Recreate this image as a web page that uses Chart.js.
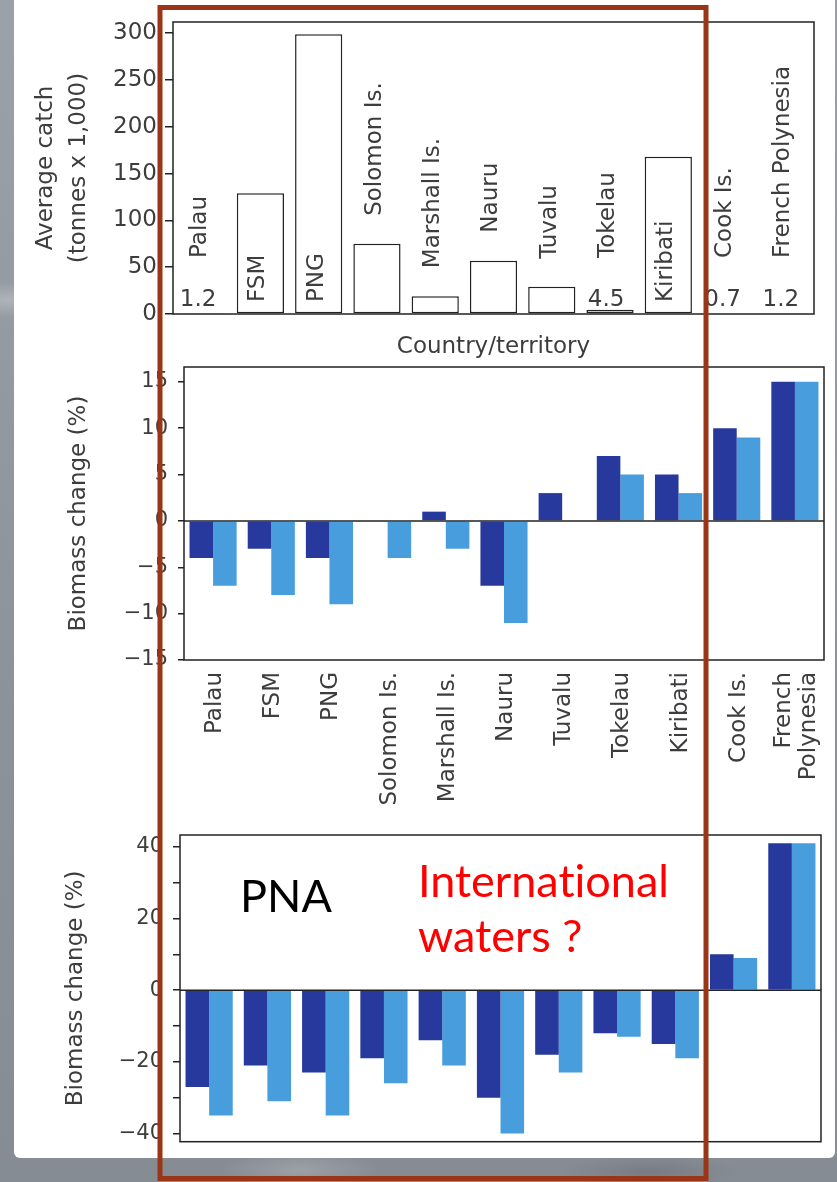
<!DOCTYPE html>
<html>
<head>
<meta charset="utf-8">
<script src="https://cdn.jsdelivr.net/npm/chart.js@4/dist/chart.umd.min.js"></script>
<style>
  html, body { margin: 0; padding: 0; }
  body {
    width: 837px; height: 1182px; position: relative; overflow: hidden;
    background:
      radial-gradient(ellipse 60px 18px at 8px 300px, rgba(255,255,255,0.25), transparent),
      radial-gradient(ellipse 80px 20px at 300px 1170px, rgba(255,255,255,0.18), transparent),
      radial-gradient(ellipse 90px 16px at 650px 1172px, rgba(60,60,70,0.2), transparent),
      linear-gradient(180deg, #9ba1a8 0%, #8c929a 60%, #868c94 100%);
  }
  #sheet {
    position: absolute; left: 14px; top: 0; width: 821px; height: 1158px;
    background: #fff; border-radius: 0 0 6px 6px;
  }
  canvas { position: absolute; left: 0; }
  #c1 { top: 0; }
  #c2 { top: 360px; }
  #c3 { top: 820px; }
  #overlay { position: absolute; left: 0; top: 0; pointer-events: none; }
  #overlay text { font-variant-ligatures: none; font-feature-settings: "liga" 0; }
</style>
</head>
<body>
<div id="sheet"></div>
<canvas id="c1" width="837" height="362"></canvas>
<canvas id="c2" width="837" height="470"></canvas>
<canvas id="c3" width="837" height="362"></canvas>
<svg id="overlay" width="837" height="1182" xmlns="http://www.w3.org/2000/svg">
  <text x="240" y="911.5" font-family="Lato, 'Open Sans', sans-serif" font-size="45" fill="#000">PNA</text>
  <text x="418" y="896.5" font-family="Lato, 'Open Sans', sans-serif" font-size="45" fill="#ff0000">International</text>
  <text x="418" y="951.5" font-family="Lato, 'Open Sans', sans-serif" font-size="45" fill="#ff0000">waters ?</text>
  <rect x="160" y="7.5" width="546" height="1171" fill="none" stroke="#9b3517" stroke-width="5"/>
</svg>
<script>
// Countries / territories, west to east
const countries = ['Palau', 'FSM', 'PNG', 'Solomon Is.', 'Marshall Is.', 'Nauru',
  'Tuvalu', 'Tokelau', 'Kiribati', 'Cook Is.', 'French Polynesia'];
const axisLabels = ['Palau', 'FSM', 'PNG', 'Solomon Is.', 'Marshall Is.', 'Nauru',
  'Tuvalu', 'Tokelau', 'Kiribati', 'Cook Is.', ['French', 'Polynesia']];

// Average catch (tonnes x 1,000)
const catchValues = [1.2, 129, 299, 75, 19, 57, 29, 4.5, 168, 0.7, 1.2];

// Biomass change (%), middle panel
const midDark  = [-4, -3, -4, 0, 1, -7, 3, 7, 5, 10, 15];
const midLight = [-7, -8, -9, -4, -3, -11, 0, 5, 3, 9, 15];

// Biomass change (%), lower panel
const lowDark  = [-27, -21, -23, -19, -14, -30, -18, -12, -15, 10, 41];
const lowLight = [-35, -31, -35, -26, -21, -40, -23, -13, -19, 9, 41];

// Tick values
const catchTicks = [0, 50, 100, 150, 200, 250, 300];
const midTicks   = [-15, -10, -5, 0, 5, 10, 15];
const lowTicks   = [-40, -30, -20, -10, 0, 10, 20, 30, 40];
const lowLabelled = [-40, -20, 0, 20, 40];

const FONT = '"DejaVu Sans", sans-serif';
const TEXT = '#3d3d3d';
const LINE = '#222';
const DARK = '#27399d';
const LIGHT = '#489edc';

const fmt = v => (v < 0 ? '\u2212' : '') + Math.abs(v);

function framePlugin(showZero) {
  return {
    id: 'frame',
    afterDatasetsDraw(chart) {
      const { ctx, chartArea: a, scales: { y } } = chart;
      ctx.save();
      ctx.strokeStyle = LINE;
      ctx.lineWidth = 1.5;
      ctx.strokeRect(a.left, a.top, a.right - a.left, a.bottom - a.top);
      if (showZero) {
        const z = y.getPixelForValue(0);
        ctx.beginPath();
        ctx.moveTo(a.left, z);
        ctx.lineTo(a.right, z);
        ctx.stroke();
      }
      ctx.restore();
    }
  };
}

// Country names and small values written over the catch bars
const catchLabels = {
  id: 'catchLabels',
  afterDatasetsDraw(chart) {
    const { ctx, scales: { y } } = chart;
    const zero = y.getPixelForValue(0);
    const meta = chart.getDatasetMeta(0);
    ctx.save();
    ctx.font = '23px ' + FONT;
    ctx.fillStyle = TEXT;
    meta.data.forEach((bar, i) => {
      const v = catchValues[i];
      let start;
      if (v >= 100) {
        start = zero - 12;
      } else if (v < 10) {
        ctx.textAlign = 'center';
        ctx.textBaseline = 'alphabetic';
        ctx.fillText(String(v), bar.x - 4, zero - 8);
        start = zero - 56;
      } else {
        start = bar.y - 28;
      }
      ctx.save();
      ctx.translate(bar.x - 2, start);
      ctx.rotate(-Math.PI / 2);
      ctx.textAlign = 'left';
      ctx.textBaseline = 'middle';
      ctx.fillText(countries[i], 0, 0);
      ctx.restore();
    });
    ctx.restore();
  }
};

// Vertical category names under the middle panel, multi-line names centred on their slot
const axisNames = {
  id: 'axisNames',
  afterDraw(chart) {
    const { ctx, chartArea: a, scales: { x } } = chart;
    const lineGap = 25;
    ctx.save();
    ctx.font = '23px ' + FONT;
    ctx.fillStyle = TEXT;
    ctx.textAlign = 'right';
    ctx.textBaseline = 'middle';
    axisLabels.forEach((label, i) => {
      const lines = Array.isArray(label) ? label : [label];
      const cx = x.getPixelForValue(i) + 2;
      lines.forEach((line, j) => {
        ctx.save();
        ctx.translate(cx + (j - (lines.length - 1) / 2) * lineGap, a.bottom + 12);
        ctx.rotate(-Math.PI / 2);
        ctx.fillText(line, 0, 0);
        ctx.restore();
      });
    });
    ctx.restore();
  }
};

function yAxis(opts) {
  return {
    position: 'left',
    min: opts.min, max: opts.max,
    afterBuildTicks: s => { s.ticks = opts.ticks.map(value => ({ value })); },
    afterFit: s => { s.width = opts.width; s.paddingTop = 0; s.paddingBottom = 0; },
    grid: { drawOnChartArea: false, drawTicks: true, tickLength: opts.tickLength, color: LINE, lineWidth: 1.5 },
    border: { display: false },
    ticks: {
      padding: opts.pad, color: TEXT, font: { family: FONT, size: opts.size },
      callback: opts.callback || (v => fmt(v))
    },
    title: {
      display: true, text: opts.title, color: TEXT,
      font: { family: FONT, size: 23, lineHeight: opts.lineHeight || 1.2 },
      padding: { top: opts.titlePad, bottom: 0 }
    }
  };
}

const common = {
  responsive: false,
  animation: false,
  devicePixelRatio: 1,
  plugins: { legend: { display: false }, tooltip: { enabled: false } }
};

// Top panel: average catch
new Chart(document.getElementById('c1'), {
  type: 'bar',
  data: {
    labels: countries,
    datasets: [{
      data: catchValues,
      backgroundColor: '#fff',
      borderColor: LINE,
      borderWidth: 1.5,
      borderSkipped: false,
      categoryPercentage: 0.81,
      barPercentage: 1
    }]
  },
  options: {
    ...common,
    layout: { padding: { left: 0, right: 23, top: 22, bottom: 0 } },
    scales: {
      x: {
        ticks: { display: false },
        grid: { display: false, drawTicks: false },
        border: { display: false },
        afterFit: s => { s.height = 48; s.paddingLeft = 0; s.paddingRight = 0; },
        title: {
          display: true, text: 'Country/territory', color: TEXT,
          font: { family: FONT, size: 23 }, padding: { top: 0, bottom: 1 }
        }
      },
      y: yAxis({
        min: 0, max: 312, ticks: catchTicks, width: 173, tickLength: 8, pad: 8, size: 23,
        title: ['Average catch', '(tonnes x 1,000)'], lineHeight: 33 / 23, titlePad: 29.5
      })
    }
  },
  plugins: [framePlugin(false), catchLabels]
});

// Middle panel: biomass change
new Chart(document.getElementById('c2'), {
  type: 'bar',
  data: {
    labels: countries,
    datasets: [
      { data: midDark, backgroundColor: DARK, categoryPercentage: 0.81, barPercentage: 1 },
      { data: midLight, backgroundColor: LIGHT, categoryPercentage: 0.81, barPercentage: 1 }
    ]
  },
  options: {
    ...common,
    layout: { padding: { left: 0, right: 13, top: 7, bottom: 0 } },
    scales: {
      x: {
        ticks: { display: false },
        grid: { display: false, drawTicks: false },
        border: { display: false },
        afterFit: s => { s.height = 170; s.paddingLeft = 0; s.paddingRight = 0; }
      },
      y: yAxis({
        min: -15, max: 16.6, ticks: midTicks, width: 184, tickLength: 6, pad: 10, size: 21,
        title: 'Biomass change (%)', titlePad: 65
      })
    }
  },
  plugins: [framePlugin(true), axisNames]
});

// Lower panel: biomass change
new Chart(document.getElementById('c3'), {
  type: 'bar',
  data: {
    labels: countries,
    datasets: [
      { data: lowDark, backgroundColor: DARK, categoryPercentage: 0.81, barPercentage: 1 },
      { data: lowLight, backgroundColor: LIGHT, categoryPercentage: 0.81, barPercentage: 1 }
    ]
  },
  options: {
    ...common,
    layout: { padding: { left: 0, right: 16, top: 15, bottom: 0 } },
    scales: {
      x: {
        ticks: { display: false },
        grid: { display: false, drawTicks: false },
        border: { display: false },
        afterFit: s => { s.height = 40.3; s.paddingLeft = 0; s.paddingRight = 0; }
      },
      y: yAxis({
        min: -42.3, max: 43.3, ticks: lowTicks, width: 180, tickLength: 7, pad: 10, size: 21,
        title: 'Biomass change (%)', titlePad: 62,
        callback: v => (lowLabelled.includes(v) ? fmt(v) : '')
      })
    }
  },
  plugins: [framePlugin(true)]
});
</script>
</body>
</html>
